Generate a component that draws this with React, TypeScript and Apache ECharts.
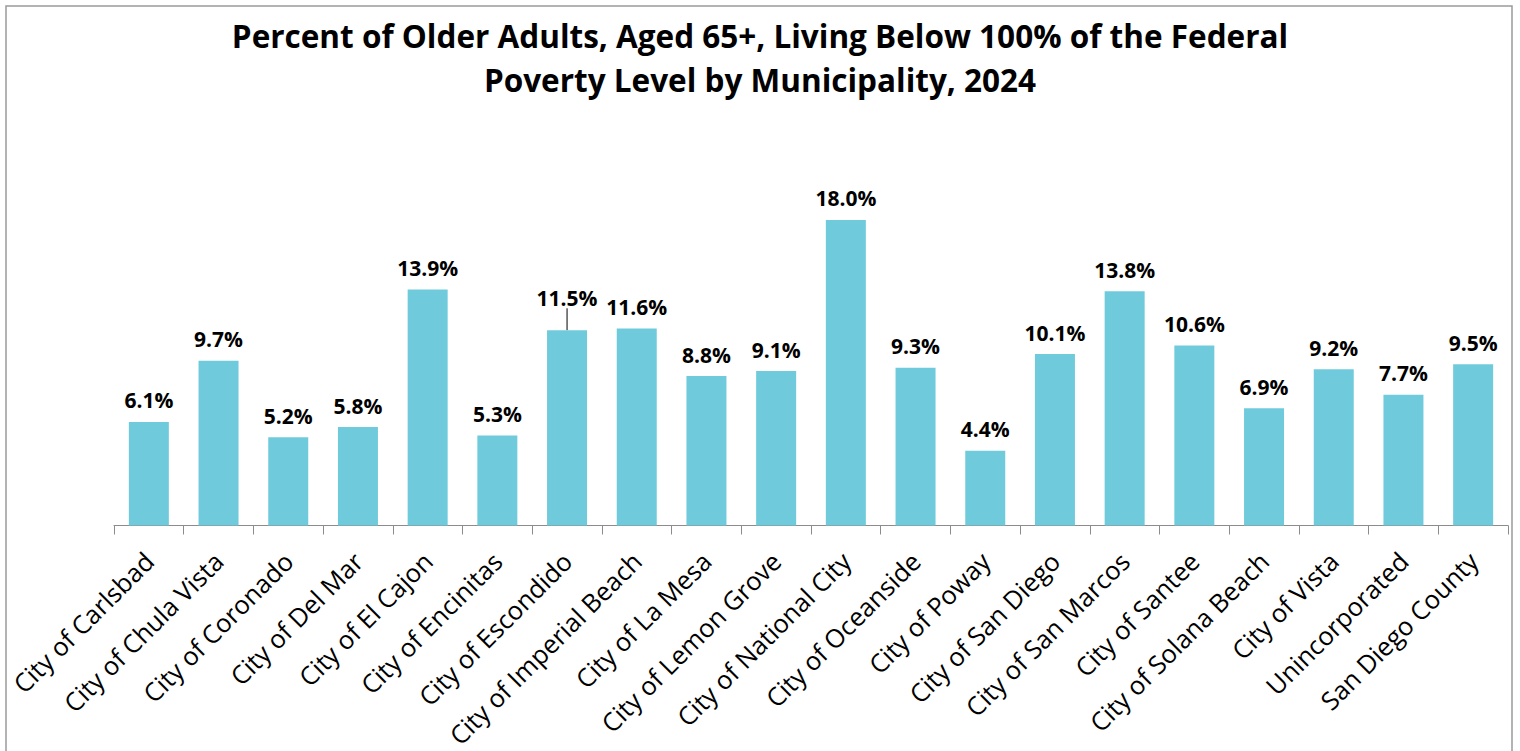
import React, { useEffect, useRef } from "react";
import * as echarts from "echarts";

const categories = [
  "City of Carlsbad",
  "City of Chula Vista",
  "City of Coronado",
  "City of Del Mar",
  "City of El Cajon",
  "City of Encinitas",
  "City of Escondido",
  "City of Imperial Beach",
  "City of La Mesa",
  "City of Lemon Grove",
  "City of National City",
  "City of Oceanside",
  "City of Poway",
  "City of San Diego",
  "City of San Marcos",
  "City of Santee",
  "City of Solana Beach",
  "City of Vista",
  "Unincorporated",
  "San Diego County",
];

const values = [6.1, 9.7, 5.2, 5.8, 13.9, 5.3, 11.5, 11.6, 8.8, 9.1, 18.0, 9.3, 4.4, 10.1, 13.8, 10.6, 6.9, 9.2, 7.7, 9.5];

// index of the label that is lifted with a leader line
const liftedLabelIndex = 6;

const titleText = "Percent of Older Adults, Aged 65+, Living Below 100% of the Federal\nPoverty Level by Municipality, 2024";

const FONT = "'Open Sans', 'Noto Sans', sans-serif";

export default function App() {
  const ref = useRef<HTMLDivElement>(null);
  useEffect(() => {
    if (!ref.current) return;
    const chart = echarts.init(ref.current, undefined, { renderer: "svg" });
    const seriesData = values.map((v, i) =>
      i === liftedLabelIndex
        ? { value: v, labelLine: { show: true, lineStyle: { color: "#000000", width: 1 } } }
        : { value: v }
    );
    chart.setOption({
      animation: false,
      backgroundColor: "#ffffff",
      title: {
        text: titleText,
        left: 755,
        top: 8,
        textAlign: "center",
        textStyle: {
          fontFamily: FONT,
          fontSize: 31.5,
          fontWeight: "bold",
          color: "#000000",
          lineHeight: 44,
        },
      },
      graphic: [
        {
          type: "rect",
          shape: { x: 6, y: 6, width: 1506, height: 770 },
          style: { fill: "none", stroke: "#9a9a9a", lineWidth: 1.5 },
          silent: true,
          z: -1,
        },
      ],
      grid: { left: 114, right: 12, top: 186, bottom: 225, containLabel: false },
      xAxis: {
        type: "category",
        data: categories,
        axisLine: { show: true, lineStyle: { color: "#8c8c8c", width: 1 } },
        axisTick: { show: true, length: 9, lineStyle: { color: "#8c8c8c" } },
        axisLabel: {
          interval: 0,
          rotate: 45,
          margin: 31,
          fontFamily: FONT,
          fontSize: 25.5,
          color: "#000000",
        },
      },
      yAxis: {
        type: "value",
        min: 0,
        max: 20,
        show: false,
        splitLine: { show: false },
      },
      series: [
        {
          type: "bar",
          data: seriesData,
          barWidth: 40,
          itemStyle: { color: "#6fcbdb" },
          label: {
            show: true,
            position: "top",
            distance: 11,
            formatter: (p: any) => Number(p.value).toFixed(1) + "%",
            fontFamily: FONT,
            fontSize: 21,
            fontWeight: "bold",
            color: "#000000",
          },
          labelLine: { show: false },
          labelLayout: (params: any) => (params.dataIndex === liftedLabelIndex ? { dy: -11 } : {}),
        },
      ],
    });
    return () => chart.dispose();
  }, []);
  return (
    <div
      ref={ref}
      style={{ position: "fixed", left: 0, top: 0, width: 1520, height: 751 }}
    />
  );
}
